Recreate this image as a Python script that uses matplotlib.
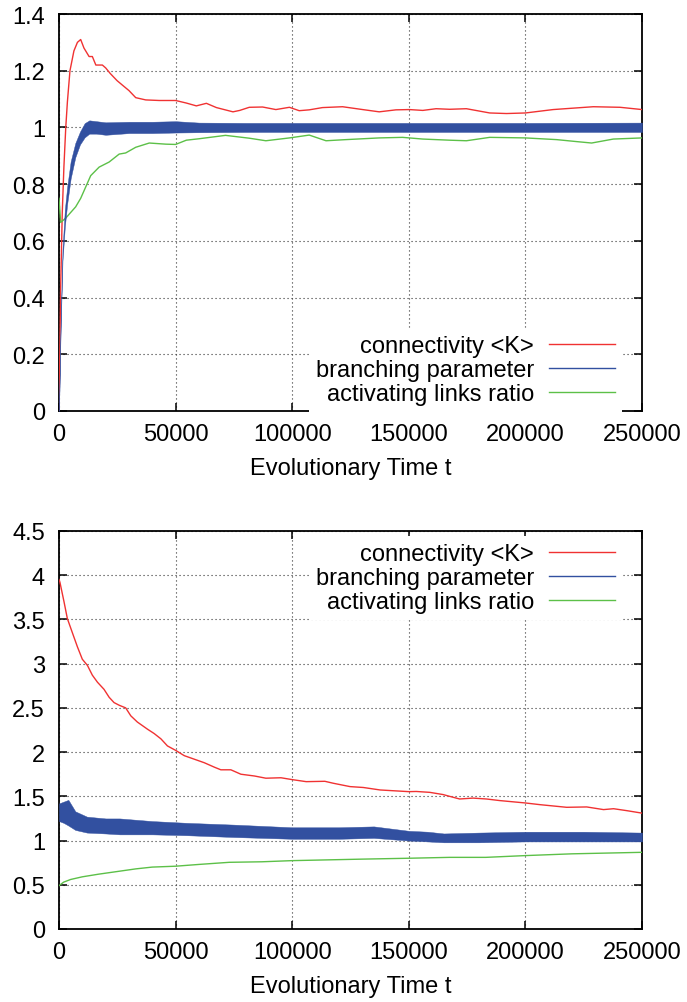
import matplotlib
matplotlib.use("Agg")
import matplotlib.pyplot as plt
from matplotlib.ticker import FuncFormatter

plt.rcParams['font.family'] = ['Liberation Sans', 'DejaVu Sans']

# ---------------- data: top panel ----------------
top_red_t = [0, 700, 1400, 2100, 2900, 3600, 4700, 6400, 7900, 9300, 10700, 12900, 14300,
             15800, 18600, 20000, 22000, 24900, 27800, 30000, 32900, 37200, 43000, 50000,
             54600, 58900, 63200, 67500, 74600, 77500, 81600, 87300, 93000, 98800, 103000,
             107300, 113000, 121600, 130200, 137300, 144500, 150200, 156000, 161700, 167500,
             174700, 184700, 191900, 200000, 211900, 220500, 229100, 240600, 250000]
top_red_v = [0.0, 0.43, 0.70, 0.86, 1.00, 1.09, 1.20, 1.27, 1.30, 1.31, 1.28, 1.25, 1.25,
             1.22, 1.22, 1.21, 1.19, 1.165, 1.145, 1.13, 1.105, 1.097, 1.095, 1.095,
             1.086, 1.076, 1.085, 1.07, 1.055, 1.06, 1.071, 1.072, 1.063, 1.071, 1.059,
             1.062, 1.07, 1.073, 1.063, 1.055, 1.062, 1.063, 1.06, 1.066, 1.064,
             1.066, 1.051, 1.049, 1.051, 1.063, 1.068, 1.073, 1.071, 1.063]

top_blue_t = [0, 700, 1500, 2500, 3500, 5000, 7000, 9000, 11000, 13000, 16000, 20000,
              30000, 40000, 50000, 60000, 80000, 100000, 150000, 200000, 250000]
top_blue_hi = [0.0, 0.31, 0.57, 0.71, 0.79, 0.88, 0.945, 0.985, 1.015, 1.025, 1.022, 1.018,
               1.02, 1.02, 1.022, 1.017, 1.016, 1.016, 1.016, 1.016, 1.017]
top_blue_lo = [0.0, 0.29, 0.53, 0.65, 0.73, 0.82, 0.895, 0.94, 0.965, 0.978, 0.978, 0.974,
               0.98, 0.98, 0.982, 0.983, 0.984, 0.984, 0.984, 0.984, 0.984]

top_green_t = [0, 715, 2860, 5000, 7150, 9300, 11450, 13600, 17200, 21500, 25800, 28600,
               32900, 38700, 45800, 50000, 54600, 60000, 71400, 81600, 88700, 98800, 107300,
               114500, 123000, 137300, 147300, 156000, 167500, 174700, 184700, 200000,
               213400, 222000, 228400, 237700, 250000]
top_green_v = [0.75, 0.665, 0.68, 0.70, 0.72, 0.75, 0.79, 0.83, 0.86, 0.878, 0.906, 0.91,
               0.93, 0.945, 0.941, 0.94, 0.955, 0.96, 0.972, 0.962, 0.953, 0.963, 0.973,
               0.953, 0.957, 0.963, 0.965, 0.959, 0.955, 0.953, 0.965, 0.963,
               0.957, 0.95, 0.945, 0.959, 0.963]

# ---------------- data: bottom panel ----------------
bot_red_t = [0, 400, 2150, 3580, 5730, 7900, 10000, 12200, 14300, 16500, 19300, 21500,
             23600, 25800, 28600, 30800, 33600, 37900, 40800, 43700, 46500, 50000, 53700,
             58000, 62300, 66600, 69400, 73700, 78000, 83800, 88700, 95200, 100000, 106000,
             114000, 117600, 124800, 130500, 137700, 150000, 153200, 159000, 164700, 167500,
             171800, 177500, 183300, 189000, 200000, 206200, 217700, 226300, 233500, 237800,
             243500, 250000]
bot_red_v = [3.95, 3.92, 3.70, 3.51, 3.35, 3.19, 3.05, 2.98, 2.87, 2.79, 2.71, 2.62,
             2.56, 2.53, 2.50, 2.41, 2.34, 2.26, 2.21, 2.15, 2.07, 2.02, 1.96,
             1.92, 1.88, 1.83, 1.80, 1.80, 1.75, 1.73, 1.705, 1.71, 1.689, 1.666,
             1.67, 1.648, 1.61, 1.60, 1.572, 1.553, 1.555, 1.545, 1.52, 1.50,
             1.47, 1.48, 1.47, 1.452, 1.425, 1.406, 1.376, 1.38, 1.35, 1.36,
             1.338, 1.31]

bot_blue_t = [0, 2000, 4000, 7000, 12000, 20000, 26000, 40000, 55000, 75000, 100000,
              120000, 135000, 150000, 158000, 165000, 180000, 200000, 225000, 250000]
bot_blue_hi = [1.42, 1.44, 1.46, 1.33, 1.27, 1.25, 1.25, 1.22, 1.20, 1.18, 1.15,
               1.15, 1.16, 1.11, 1.10, 1.08, 1.09, 1.10, 1.10, 1.09]
bot_blue_lo = [1.22, 1.20, 1.17, 1.12, 1.09, 1.08, 1.07, 1.07, 1.06, 1.04, 1.02,
               1.02, 1.03, 1.00, 0.99, 0.98, 0.98, 0.99, 0.99, 0.99]

bot_green_t = [0, 2000, 5000, 10000, 17000, 25000, 33000, 40000, 50000, 60000, 73000,
               87000, 100000, 130000, 150000, 167500, 183000, 200000, 220000, 250000]
bot_green_v = [0.49, 0.53, 0.56, 0.59, 0.62, 0.65, 0.68, 0.70, 0.71, 0.73, 0.754,
               0.76, 0.773, 0.79, 0.80, 0.81, 0.81, 0.83, 0.85, 0.867]

labels = ["connectivity <K>", "branching parameter", "activating links ratio"]
x_ticks = [0, 50000, 100000, 150000, 200000, 250000]
top_yticks = [0, 0.2, 0.4, 0.6, 0.8, 1.0, 1.2, 1.4]
bot_yticks = [0, 0.5, 1.0, 1.5, 2.0, 2.5, 3.0, 3.5, 4.0, 4.5]
xlabel = "Evolutionary Time t"

RED = '#f03232'
BLUE = '#3250a0'
GREEN = '#5cc048'
FS = 17

fig = plt.figure(figsize=(6.87, 10.03), dpi=100)
W, H = 687.0, 1003.0
ax1 = fig.add_axes([59 / W, 1 - 412 / H, 583 / W, 397 / H])
ax2 = fig.add_axes([59 / W, 1 - 930 / H, 583 / W, 398 / H])


def style(ax, yticks, ymax):
    ax.set_xlim(0, 250000)
    ax.set_ylim(0, ymax)
    ax.set_xticks(x_ticks)
    ax.set_yticks(yticks)
    ax.xaxis.set_major_formatter(FuncFormatter(lambda v, p: "%d" % v))
    ax.yaxis.set_major_formatter(FuncFormatter(lambda v, p: "%g" % round(v, 2)))
    ax.tick_params(direction='in', length=6, width=1.1, top=True, right=True,
                   labelsize=FS, colors='black')
    ax.tick_params(axis='x', pad=9)
    ax.tick_params(axis='y', pad=10)
    ax.grid(True, color='#333333', linewidth=0.8, linestyle=(0, (1, 2.6)))
    for s in ax.spines.values():
        s.set_linewidth(1.3)
    ax.set_xlabel(xlabel, fontsize=FS, labelpad=8)


style(ax1, top_yticks, 1.4)
style(ax2, bot_yticks, 4.5)

# top panel
l1, = ax1.plot(top_red_t, top_red_v, color=RED, lw=1.0, zorder=3)
ax1.fill_between(top_blue_t, top_blue_lo, top_blue_hi, color=BLUE, lw=0.3, edgecolor=BLUE, zorder=4)
l2, = ax1.plot([], [], color=BLUE, lw=1.0)
l3, = ax1.plot(top_green_t, top_green_v, color=GREEN, lw=1.0, zorder=3)

# bottom panel
m1, = ax2.plot(bot_red_t, bot_red_v, color=RED, lw=1.0, zorder=3)
ax2.fill_between(bot_blue_t, bot_blue_lo, bot_blue_hi, color=BLUE, lw=0.3, edgecolor=BLUE, zorder=4)
m2, = ax2.plot([], [], color=BLUE, lw=1.0)
m3, = ax2.plot(bot_green_t, bot_green_v, color=GREEN, lw=1.0, zorder=3)

leg_kw = dict(fontsize=FS, markerfirst=False, handlelength=2.8, handletextpad=0.64,
              labelspacing=0.08, borderpad=0.3, borderaxespad=0, frameon=True,
              fancybox=False, framealpha=1, facecolor='white', edgecolor='none')
lg1 = ax1.legend([l1, l2, l3], labels, loc='lower right', bbox_to_anchor=(0.966, -0.003), **leg_kw)
lg2 = ax2.legend([m1, m2, m3], labels, loc='upper right', bbox_to_anchor=(0.966, 0.9875), **leg_kw)
for lg in (lg1, lg2):
    for t in lg.get_texts():
        t.set_ha('right')
    lg.set_zorder(10)

fig.savefig("out.png", dpi=100)
